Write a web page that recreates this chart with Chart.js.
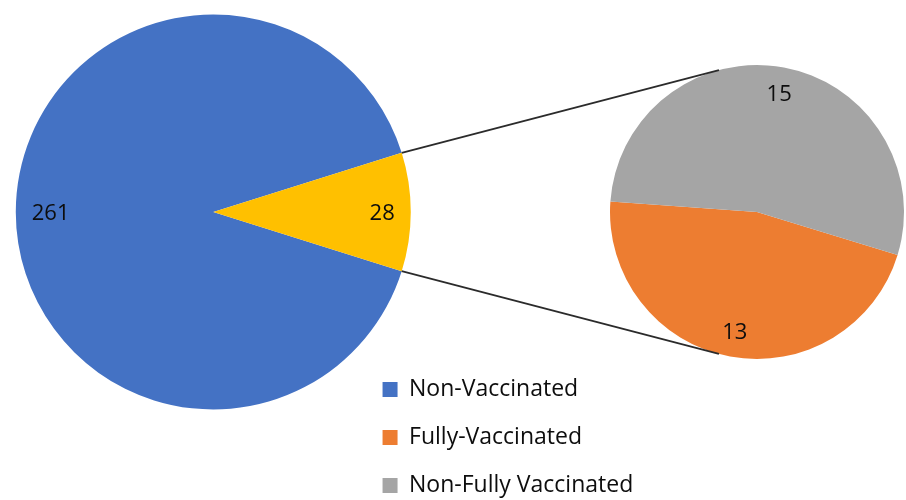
<!DOCTYPE html>
<html>
<head>
<meta charset="utf-8">
<script src="https://cdn.jsdelivr.net/npm/chart.js@4.4.0/dist/chart.umd.min.js"></script>
<style>
  html, body { margin: 0; padding: 0; background: #ffffff; overflow: hidden; width: 906px; height: 500px; }
  body { position: relative; }
  #detailWrap { position: absolute; left: 607px; top: 62px; width: 300px; height: 300px; }
  #mainWrap { position: absolute; left: 0; top: -98px; width: 906px; height: 620px; }
</style>
</head>
<body>
<div id="detailWrap"><canvas id="detail"></canvas></div>
<div id="mainWrap"><canvas id="main"></canvas></div>
<script>
// ---- data ----
const mainLabels = ['Non-Vaccinated', 'Vaccinated'];
const mainValues = [261, 28];
const mainColors = ['#4472C4', '#FFC000'];

const detailLabels = ['Fully-Vaccinated', 'Non-Fully Vaccinated'];
const detailValues = [13, 15];
const detailColors = ['#ED7D31', '#A5A5A5'];

const legendLabels = ['Non-Vaccinated', 'Fully-Vaccinated', 'Non-Fully Vaccinated'];
const legendColors = ['#4472C4', '#ED7D31', '#A5A5A5'];

// ---- plugins ----
// value labels placed "inside end": the text box sits a fixed inset from the rim
const valueLabels = {
  id: 'valueLabels',
  afterDatasetsDraw(chart, args, opts) {
    const ctx = chart.ctx;
    const meta = chart.getDatasetMeta(0);
    const data = chart.data.datasets[0].data;
    ctx.save();
    ctx.font = opts.font;
    ctx.fillStyle = opts.color;
    ctx.textAlign = 'center';
    ctx.textBaseline = 'alphabetic';
    meta.data.forEach((arc, i) => {
      const p = arc.getProps(['x', 'y', 'startAngle', 'endAngle', 'outerRadius'], true);
      const mid = (p.startAngle + p.endAngle) / 2;
      const txt = String(data[i]);
      const m = ctx.measureText(txt);
      const w = m.width, h = m.actualBoundingBoxAscent;
      const c = Math.cos(mid), s = Math.sin(mid);
      const ext = Math.abs(c) * w / 2 + Math.abs(s) * h / 2;
      const d = p.outerRadius - opts.inset - ext;
      const cx = p.x + c * d, cy = p.y + s * d;
      ctx.fillText(txt, cx, cy + h / 2);
    });
    ctx.restore();
  }
};

let detailChart = null;

const connector = {
  id: 'connector',
  afterDraw(chart, args, opts) {
    if (!detailChart) return;
    const ctx = chart.ctx;
    const src = chart.getDatasetMeta(0).data[opts.index].getProps(['x', 'y', 'startAngle', 'endAngle', 'outerRadius'], true);
    const tgt = detailChart.getDatasetMeta(0).data[0].getProps(['x', 'y', 'outerRadius'], true);
    const mr = chart.canvas.getBoundingClientRect();
    const tr = detailChart.canvas.getBoundingClientRect();
    const dx = tr.left - mr.left, dy = tr.top - mr.top;
    const a = opts.targetAngle * Math.PI / 180;
    const tx = tgt.x + dx, ty = tgt.y + dy;
    const pts = [
      [src.x + Math.cos(src.startAngle) * src.outerRadius, src.y + Math.sin(src.startAngle) * src.outerRadius,
       tx + Math.cos(-a) * tgt.outerRadius, ty + Math.sin(-a) * tgt.outerRadius],
      [src.x + Math.cos(src.endAngle) * src.outerRadius, src.y + Math.sin(src.endAngle) * src.outerRadius,
       tx + Math.cos(a) * tgt.outerRadius, ty + Math.sin(a) * tgt.outerRadius]
    ];
    ctx.save();
    ctx.strokeStyle = opts.color;
    ctx.lineWidth = opts.width;
    pts.forEach(p => {
      ctx.beginPath();
      ctx.moveTo(p[0], p[1]);
      ctx.lineTo(p[2], p[3]);
      ctx.stroke();
    });
    ctx.restore();
  }
};

const labelFont = "22px 'Open Sans', sans-serif";

// ---- detail (second) pie ----
detailChart = new Chart(document.getElementById('detail'), {
  type: 'pie',
  data: {
    labels: detailLabels,
    datasets: [{ data: detailValues, backgroundColor: detailColors, borderWidth: 0 }]
  },
  options: {
    responsive: true,
    maintainAspectRatio: false,
    animation: false,
    events: [],
    rotation: 107,
    radius: 147,
    layout: { padding: 0 },
    plugins: {
      legend: { display: false },
      tooltip: { enabled: false },
      valueLabels: { font: labelFont, color: '#0d0d0d', inset: 16 }
    }
  },
  plugins: [valueLabels]
});

// ---- main pie ----
const otherShare = mainValues[1] / (mainValues[0] + mainValues[1]) * 360;
new Chart(document.getElementById('main'), {
  type: 'pie',
  data: {
    labels: mainLabels,
    datasets: [{ data: mainValues, backgroundColor: mainColors, borderWidth: 0 }]
  },
  options: {
    responsive: true,
    maintainAspectRatio: false,
    animation: false,
    events: [],
    rotation: 90 + otherShare / 2,
    radius: 197.5,
    layout: { padding: { left: 69, right: 262.8, top: 0, bottom: 0 } },
    plugins: {
      tooltip: { enabled: false },
      legend: {
        position: 'right',
        align: 'end',
        maxWidth: 400,
        labels: {
          boxWidth: 15,
          boxHeight: 15,
          padding: 25,
          color: '#0d0d0d',
          font: { family: "'Open Sans', sans-serif", size: 23 },
          generateLabels: () => legendLabels.map((t, i) => ({
            text: t, fillStyle: legendColors[i], strokeStyle: legendColors[i],
            lineWidth: 0, hidden: false, index: i, fontColor: '#0d0d0d'
          }))
        }
      },
      valueLabels: { font: labelFont, color: '#0d0d0d', inset: 16 },
      connector: { index: 1, targetAngle: 105, color: '#2b2b2b', width: 1.8 }
    }
  },
  plugins: [valueLabels, connector]
});
</script>
</body>
</html>
